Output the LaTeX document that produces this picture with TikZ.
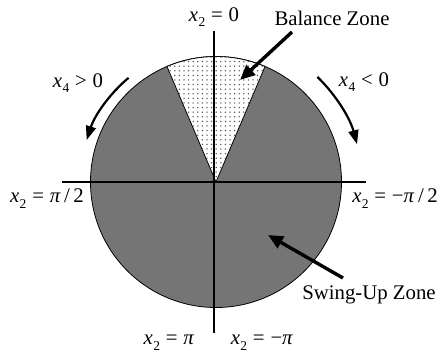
\documentclass[tikz,border=0pt]{standalone}
\usepackage{fontspec}
\setmainfont{Liberation Serif}
\usetikzlibrary{patterns.meta,arrows.meta}
\newcommand\xsub[2]{\textit{#1}\kern0.3pt\raisebox{-0.28em}{\fontsize{13.5}{13.5}\selectfont #2}}
\newcommand\eqs{\hspace{0.28em}=\hspace{0.28em}}
\newcommand\rel[1]{\hspace{0.28em}#1\hspace{0.28em}}
\begin{document}
\begin{tikzpicture}[x=1pt,y=1pt,
  lbl/.style={font=\rmfamily\fontsize{20.8}{24}\selectfont, inner sep=0pt},
  axis/.style={line width=1.6pt},
  bigarrow/.style={line width=3.4pt, -{Triangle[length=15pt,width=13pt]}},
  turnarrow/.style={line width=2.2pt, -{Triangle[length=14pt,width=10pt]}}]
\useasboundingbox (0,0) rectangle (439,356);
\coordinate (C) at (216,174);
% zones
\fill[black!54, draw=black, line width=0.8pt] (C) circle[radius=125.5];
\path[fill=white, draw=black, line width=0.8pt] (C) -- ++(67:125.5) arc[start angle=67, end angle=113, radius=125.5] -- cycle;
\path[pattern={Dots[distance=4.6pt, radius=0.75pt]}, pattern color=black!70] (C) -- ++(67:125.5) arc[start angle=67, end angle=113, radius=125.5] -- cycle;
% axes
\coordinate (vt) at (214,325);
\coordinate (vb) at (214,23);
\coordinate (hl) at (62,174);
\coordinate (hr) at (366,174);
\draw[axis] (vt) -- (vb);
\draw[axis] (hl) -- (hr);
% labels
\node[lbl] (t0) at (214,339) {\xsub{x}{2}\eqs 0};
\node[lbl] (bz) at (332,338) {Balance Zone};
\node[lbl] (x4p) at (78,273) {\xsub{x}{4}\rel{\textgreater}0};
\node[lbl] (x4n) at (364,274) {\xsub{x}{4}\rel{\textless}0};
\node[lbl] (pl) at (47,157) {\xsub{x}{2}\eqs\textit{π}\,/\,2};
\node[lbl] (pr) at (395,157) {\xsub{x}{2}\eqs −\textit{π}\,/\,2};
\node[lbl] (sz) at (369,61) {Swing-Up Zone};
\node[lbl] (pi1) at (169,13) {\xsub{x}{2}\eqs\textit{π}};
\node[lbl] (pi2) at (262,13) {\xsub{x}{2}\eqs −\textit{π}};
% pointer arrows
\coordinate (bzt) at (292,324);
\coordinate (bzh) at (240,276);
\coordinate (szt) at (343,78);
\coordinate (szh) at (268,121);
\draw[bigarrow] (bzt) -- (bzh);
\draw[bigarrow] (szt) -- (szh);
% rotation arrows
\draw[turnarrow] (C) ++(130:136) arc[start angle=130, end angle=162, radius=136];
\draw[turnarrow] (C) ++(46:146) arc[start angle=46, end angle=15, radius=146];
\end{tikzpicture}
\end{document}
